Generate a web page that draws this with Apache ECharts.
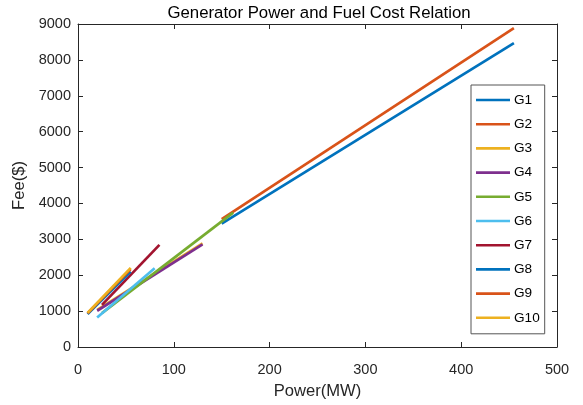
<!DOCTYPE html>
<html>
<head>
<meta charset="utf-8">
<script src="https://cdn.jsdelivr.net/npm/echarts@6/dist/echarts.min.js"></script>
<style>html,body{margin:0;padding:0;background:#fff;}#c{width:583px;height:405px;}</style>
</head>
<body>
<div id="c"></div>
<script>
// Data
const generators = ['G1','G2','G3','G4','G5','G6','G7','G8','G9','G10'];
const powerStart = [150, 150, 20, 20, 25, 20, 25, 10, 10, 10];
const powerEnd   = [455, 455, 130, 130, 162, 80, 85, 55, 55, 55];
const feeStart   = [3440, 3565, 1035, 1010, 945, 820, 1175, 920, 940, 950];
const feeEnd     = [8465, 8885, 2890, 2860, 3745, 2195, 2845, 2100, 2170, 2205];
const xTicks = [0, 100, 200, 300, 400, 500];
const yTicks = [0, 1000, 2000, 3000, 4000, 5000, 6000, 7000, 8000, 9000];

const colors = ['#0072BD','#D95319','#EDB120','#7E2F8E','#77AC30','#4DBEEE','#A2142F','#0072BD','#D95319','#EDB120'];
const font = 'Liberation Sans, Arial, Helvetica, sans-serif';
const ink = '#262626';

const chart = echarts.init(document.getElementById('c'));

const series = generators.map((g, i) => ({
  name: g,
  type: 'line',
  xAxisIndex: 0,
  yAxisIndex: 0,
  symbol: 'none',
  showSymbol: false,
  silent: true,
  animation: false,
  data: [[powerStart[i], feeStart[i]], [powerEnd[i], feeEnd[i]]],
  lineStyle: { color: colors[i], width: 2.7 },
  itemStyle: { color: colors[i] }
}));

function xAxisDef(pos, withLabels) {
  return {
    type: 'value', min: xTicks[0], max: xTicks[xTicks.length - 1], interval: 100,
    position: pos,
    splitLine: { show: false },
    axisLine: { show: true, onZero: false, lineStyle: { color: ink, width: 1 } },
    axisTick: { show: true, inside: true, length: 5, lineStyle: { color: ink } },
    axisLabel: withLabels ? { show: true, margin: 15, fontFamily: font, fontSize: 14.5, color: ink, formatter: v => String(v) } : { show: false },
    name: withLabels ? 'Power(MW)' : '',
    nameLocation: 'middle', nameGap: 36,
    nameTextStyle: { fontFamily: font, fontSize: 16.6, color: ink }
  };
}
function yAxisDef(pos, withLabels) {
  return {
    type: 'value', min: yTicks[0], max: yTicks[yTicks.length - 1], interval: 1000,
    position: pos,
    splitLine: { show: false },
    axisLine: { show: true, onZero: false, lineStyle: { color: ink, width: 1 } },
    axisTick: { show: true, inside: true, length: 5, lineStyle: { color: ink } },
    axisLabel: withLabels ? { show: true, margin: 7, fontFamily: font, fontSize: 14.5, color: ink, formatter: v => String(v) } : { show: false },
    name: withLabels ? 'Fee($)' : '',
    nameLocation: 'middle', nameGap: 43,
    nameTextStyle: { fontFamily: font, fontSize: 16.6, color: ink }
  };
}

chart.setOption({
  animation: false,
  backgroundColor: '#fff',
  grid: { left: 78, right: 26, top: 24, bottom: 51, containLabel: false },
  graphic: [{
    type: 'text', x: 319, y: 13,
    style: { text: 'Generator Power and Fuel Cost Relation', fontFamily: font, fontSize: 16.8, fill: '#000', textAlign: 'center', textVerticalAlign: 'middle' }
  }],
  xAxis: [xAxisDef('bottom', true), xAxisDef('top', false)],
  yAxis: [yAxisDef('left', true), yAxisDef('right', false)],
  legend: {
    orient: 'vertical',
    left: 471, top: 85,
    padding: [8, 5, 9, 5],
    icon: 'rect',
    itemWidth: 34, itemHeight: 2.6, itemGap: 10.2,
    backgroundColor: '#fff',
    borderColor: '#555', borderWidth: 1,
    textStyle: { fontFamily: font, fontSize: 13.6, lineHeight: 14, color: '#000', padding: [0, 0, 0, -1] },
    data: generators
  },
  series: series
});
</script>
</body>
</html>
